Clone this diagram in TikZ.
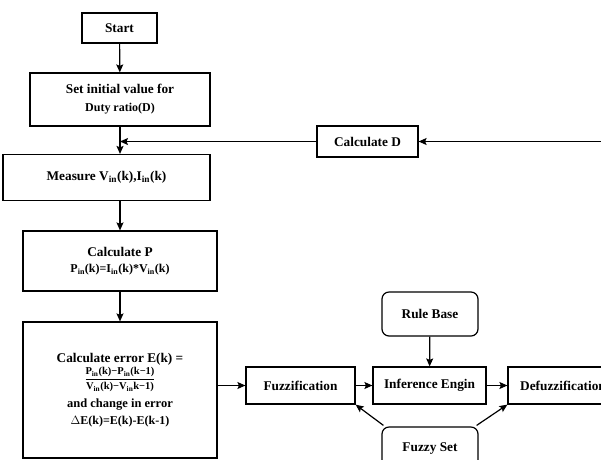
\documentclass[tikz,border=0pt]{standalone}
\usepackage{fontspec}
\setmainfont{Liberation Serif}
\usetikzlibrary{arrows.meta}
\newcommand{\mysub}[1]{\textsubscript{#1}}
\newcommand{\mmin}{\char"2212\relax}
\begin{document}
\begin{tikzpicture}[x=1pt,y=-1pt,
  box/.style={draw, line width=1.2pt, fill=white, font=\bfseries\fontsize{13.3}{15}\selectfont, align=center, inner sep=0pt},
  rbox/.style={box, rounded corners=7pt},
  arr/.style={line width=1.2pt, -{Stealth[length=8pt,width=7pt,inset=1.5pt]}},
  ln/.style={line width=1.2pt}]
\useasboundingbox (0,0) rectangle (601,459);
\clip (0,0) rectangle (601,459);
\node[box, minimum width=75pt, minimum height=30pt] (start) at (119.5,28) {Start};
\node[box, minimum width=180pt, minimum height=53pt] (set) at (120,99.5) {Set initial value for\\[3pt]{\fontsize{12}{13}\selectfont Duty ratio(D)}};
\node[box, minimum width=207pt, minimum height=46pt] (meas) at (106.5,177.5) {Measure V\mysub{in}(k),I\mysub{in}(k)};
\node[box, minimum width=194pt, minimum height=60pt] (calcp) at (120,261) {Calculate P\\[1pt]{\fontsize{12}{13}\selectfont P\mysub{in}(k)=I\mysub{in}(k)*V\mysub{in}(k)}};
\node[box, minimum width=194pt, minimum height=136pt] (err) at (120,390) {Calculate error E(k) =\\[1pt]
  {\fontsize{10.5}{11}\selectfont$\displaystyle\frac{\hbox{\bfseries P\mysub{in}(k)\mmin P\mysub{in}(k\mmin 1)\vphantom{(}}}{\hbox{\bfseries V\mysub{in}(k)\mmin V\mysub{in}k\mmin 1)}}$}\\[6pt]
  {\fontsize{12.5}{14}\selectfont and change in error}\\[2pt]
  {\fontsize{12}{13}\selectfont $\Delta$E(k)=E(k)-E(k-1)}};
\node[box, minimum width=109pt, minimum height=37pt] (fuzz) at (300.5,385.5) {Fuzzification};
\node[box, minimum width=113pt, minimum height=37pt] (inf) at (429.5,385.5) {Inference Engin};
\node[box, minimum width=110pt, minimum height=37pt] (defuzz) at (563,385.5) {Defuzzification};
\node[rbox, minimum width=96pt, minimum height=44pt] (rule) at (430,314) {Rule Base};
\node[rbox, minimum width=96pt, minimum height=44pt] (fset) at (430,449) {Fuzzy Set};
\node[box, minimum width=101pt, minimum height=31pt] (calcd) at (367.5,141.5) {Calculate D};
\coordinate (rin) at (605,141.5);
\coordinate (fb) at (120,141.5);
\draw[arr] (start) -- (set);
\draw[arr] (set.south) -- (set.south |- meas.north);
\draw[arr] (meas.south -| calcp.north) -- (calcp.north);
\draw[arr] (calcp) -- (err);
\draw[arr] (err.east |- fuzz.west) -- (fuzz.west);
\draw[arr] (fuzz) -- (inf);
\draw[arr] (inf) -- (defuzz);
\draw[arr] (rule) -- (inf);
\draw[arr] (fset.north west) ++(2,-1) coordinate (fs1) (fs1) -- (fuzz.south east);
\draw[arr] (fset.north east) ++(-2,-1) coordinate (fs2) (fs2) -- (defuzz.south west);
\draw[arr] (rin) -- (calcd.east);
\draw[arr] (calcd.west) -- (fb);
\end{tikzpicture}
\end{document}
